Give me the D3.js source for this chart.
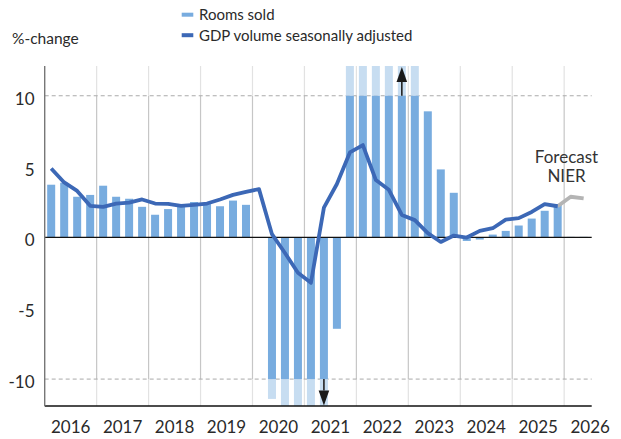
<!DOCTYPE html>
<html>
<head>
<meta charset="utf-8">
<script src="https://cdn.jsdelivr.net/npm/d3@7"></script>
<style>
body { margin: 0; background: #fff; }
svg text { font-family: Lato, "Open Sans", sans-serif; fill: #2a2a2a; }
</style>
</head>
<body>
<div id="chart"></div>
<script>
// quarters 2016Q1 - 2025Q4
var quarters = [
    "2016Q1", "2016Q2", "2016Q3", "2016Q4",
    "2017Q1", "2017Q2", "2017Q3", "2017Q4",
    "2018Q1", "2018Q2", "2018Q3", "2018Q4",
    "2019Q1", "2019Q2", "2019Q3", "2019Q4",
    "2020Q1", "2020Q2", "2020Q3", "2020Q4",
    "2021Q1", "2021Q2", "2021Q3", "2021Q4",
    "2022Q1", "2022Q2", "2022Q3", "2022Q4",
    "2023Q1", "2023Q2", "2023Q3", "2023Q4",
    "2024Q1", "2024Q2", "2024Q3", "2024Q4",
    "2025Q1", "2025Q2", "2025Q3", "2025Q4"
]
var forecastQuarters = ["2026Q1", "2026Q2"]

// rooms sold, %-change (values outside +-10 are cut off in the chart)
var roomsSold = [
    3.72, 3.86, 2.87, 3.0,
    3.65, 2.87, 2.73, 2.16,
    1.6, 2.0, 2.2, 2.5,
    2.35, 2.2, 2.6, 2.3,
    0, -11.4, -45, -38,
    -42, -30, -6.45, 40,
    110, 60, 25, 18,
    14, 8.9, 4.8, 3.15,
    -0.25, -0.15, 0.2, 0.46,
    0.84, 1.33, 1.88, 2.3
]
var roomsForecast = [0.08, 0.08]

// GDP volume seasonally adjusted, %-change
var gdp = [
    4.87, 3.88, 3.28, 2.23,
    2.16, 2.39, 2.46, 2.68,
    2.39, 2.37, 2.23, 2.3,
    2.39, 2.68, 3.0, 3.22,
    3.41, 0.23, -1.1, -2.5,
    -3.2, 2.1, 3.77, 6.0,
    6.52, 4.05, 3.36, 1.59,
    1.22, 0.3, -0.32, 0.13,
    -0.01, 0.46, 0.65, 1.26,
    1.36, 1.8, 2.35, 2.2
]
var gdpForecast = [2.87, 2.75]

var yTicks = [10, 5, 0, -5, -10]
var xTicks = [2016, 2017, 2018, 2019, 2020, 2021, 2022, 2023, 2024, 2025, 2026]
var cutoff = 10
var arrowsAt = [{q: "2022Q4", dir: "up"}, {q: "2021Q2", dir: "down"}]

function chart() {
    var width = 621, height = 439
    var svg = d3.select("#chart").append("svg")
        .attr("width", width).attr("height", height)

    var xScale = d3.scaleLinear().domain([2016, 2026.53]).range([44.7, 591.7])
    var yScale = d3.scaleLinear().domain([-11.9, 12.1]).range([406, 66])
    var yMin = yScale.domain()[0], yMax = yScale.domain()[1]

    function qx(q) {
        return xScale(+q.slice(0, 4) + (+q.slice(5) - 0.5) / 4)
    }

    var rows = quarters.map(function (q, i) {
        return {q: q, rooms: roomsSold[i], gdp: gdp[i]}
    })
    var fRows = forecastQuarters.map(function (q, i) {
        return {q: q, rooms: roomsForecast[i], gdp: gdpForecast[i]}
    })

    var grid = svg.append("g")
    // vertical year lines, lighter outside the +-10 band
    grid.selectAll(".vin").data(xTicks.slice(1)).enter().append("line")
        .attr("x1", xScale).attr("x2", xScale)
        .attr("y1", yScale(cutoff)).attr("y2", yScale(-cutoff))
        .attr("stroke", "#c6c6c6").attr("stroke-width", 1.2)
    grid.selectAll(".vtop").data(xTicks.slice(1)).enter().append("line")
        .attr("x1", xScale).attr("x2", xScale)
        .attr("y1", yScale(yMax)).attr("y2", yScale(cutoff))
        .attr("stroke", "#e2e2e2").attr("stroke-width", 1.2)
    grid.selectAll(".vbot").data(xTicks.slice(1)).enter().append("line")
        .attr("x1", xScale).attr("x2", xScale)
        .attr("y1", yScale(-cutoff)).attr("y2", yScale(yMin))
        .attr("stroke", "#e2e2e2").attr("stroke-width", 1.2)

    grid.selectAll(".dash").data([cutoff, -cutoff]).enter().append("line")
        .attr("x1", xScale(2016)).attr("x2", xScale.range()[1])
        .attr("y1", yScale).attr("y2", yScale)
        .attr("stroke", "#aaaaaa").attr("stroke-dasharray", "4,3")

    var bw = 8
    var bars = svg.append("g")
    // light part beyond the cut-off
    bars.selectAll(".over").data(rows.filter(function (d) { return Math.abs(d.rooms) > cutoff }))
        .enter().append("rect")
        .attr("x", function (d) { return qx(d.q) - bw / 2 })
        .attr("width", bw)
        .attr("y", function (d) {
            return d.rooms > 0 ? yScale(Math.min(d.rooms, yMax)) : yScale(-cutoff)
        })
        .attr("height", function (d) {
            return d.rooms > 0 ? yScale(cutoff) - yScale(Math.min(d.rooms, yMax))
                : yScale(Math.max(d.rooms, yMin)) - yScale(-cutoff)
        })
        .attr("fill", "#c7ddf1")

    bars.selectAll(".bar").data(rows).enter().append("rect")
        .attr("x", function (d) { return qx(d.q) - bw / 2 })
        .attr("width", bw)
        .attr("y", function (d) {
            var v = Math.max(-cutoff, Math.min(cutoff, d.rooms))
            return yScale(Math.max(v, 0))
        })
        .attr("height", function (d) {
            var v = Math.max(-cutoff, Math.min(cutoff, d.rooms))
            return Math.abs(yScale(v) - yScale(0))
        })
        .attr("fill", "#78acdf")

    bars.selectAll(".fbar").data(fRows).enter().append("rect")
        .attr("x", function (d) { return qx(d.q) - bw / 2 })
        .attr("width", bw)
        .attr("y", function (d) { return yScale(d.rooms) })
        .attr("height", function (d) { return yScale(0) - yScale(d.rooms) })
        .attr("fill", "#e6eef7")

    // zero and axis lines
    svg.append("line")
        .attr("x1", xScale(2016)).attr("x2", xScale.range()[1])
        .attr("y1", yScale(0)).attr("y2", yScale(0))
        .attr("stroke", "#111").attr("stroke-width", 1.3)
    svg.append("line")
        .attr("x1", xScale(2016)).attr("x2", xScale.range()[1])
        .attr("y1", yScale(yMin)).attr("y2", yScale(yMin))
        .attr("stroke", "#111").attr("stroke-width", 1.3)
    svg.append("line")
        .attr("x1", xScale(2016)).attr("x2", xScale(2016))
        .attr("y1", yScale(yMax)).attr("y2", yScale(yMin))
        .attr("stroke", "#777").attr("stroke-width", 1.4)

    var line = d3.line()
        .x(function (d) { return qx(d.q) })
        .y(function (d) { return yScale(d.gdp) })

    svg.append("path").datum([rows[rows.length - 1]].concat(fRows))
        .attr("d", line).attr("fill", "none")
        .attr("stroke", "#b4b4b4").attr("stroke-width", 3.8)
        .attr("stroke-linejoin", "round")
    svg.append("path").datum(rows)
        .attr("d", line).attr("fill", "none")
        .attr("stroke", "#3c68b6").attr("stroke-width", 3.8)
        .attr("stroke-linejoin", "round")

    // arrows for bars that run off the chart
    arrowsAt.forEach(function (a) {
        var x = qx(a.q)
        var up = a.dir == "up"
        var tip = up ? yScale(yMax) + 1 : yScale(yMin) - 0.5
        var base = up ? tip + 15 : tip - 15
        var from = up ? yScale(cutoff) : yScale(-cutoff)
        svg.append("line")
            .attr("x1", x).attr("x2", x).attr("y1", from).attr("y2", base)
            .attr("stroke", "#222").attr("stroke-width", 1.6)
        svg.append("path")
            .attr("d", "M" + [x, tip] + "L" + [x - 5.3, base] + "L" + [x + 5.3, base] + "Z")
            .attr("fill", "#1a1a1a")
    })

    // axes labels
    svg.selectAll(".ylab").data(yTicks).enter().append("text")
        .attr("x", 34.5)
        .attr("y", function (d) { return yScale(d) + 3 })
        .attr("dy", "0.35em")
        .attr("text-anchor", "end")
        .style("font-size", "17px")
        .text(function (d) { return String(d) })

    svg.selectAll(".xlab").data(xTicks).enter().append("text")
        .attr("x", function (d) { return xScale(d + 0.5) })
        .attr("y", 433)
        .attr("text-anchor", "middle")
        .style("font-size", "17px")
        .text(function (d) { return d })

    svg.append("text").attr("x", 12).attr("y", 43.5)
        .style("font-size", "15.5px").text("%-change")

    svg.append("text").attr("x", 566.5).attr("y", 162.5)
        .attr("text-anchor", "middle").style("font-size", "17px")
        .style("fill", "#333").text("Forecast")
    svg.append("text").attr("x", 566.5).attr("y", 181.5)
        .attr("text-anchor", "middle").style("font-size", "17px")
        .style("fill", "#333").text("NIER")

    // legend
    var legend = [
        {name: "Rooms sold", color: "#78acdf"},
        {name: "GDP volume seasonally adjusted", color: "#3c68b6"}
    ]
    var lg = svg.append("g").selectAll("g").data(legend).enter().append("g")
        .attr("transform", function (d, i) { return "translate(" + [181.7, 14.7 + i * 20.5] + ")" })
    lg.append("rect").attr("x", 0).attr("y", -2).attr("width", 11.6).attr("height", 4)
        .attr("fill", function (d) { return d.color })
    lg.append("text").attr("x", 17.3).attr("y", 5.3)
        .style("font-size", "15px").text(function (d) { return d.name })
}

chart()
</script>
</body>
</html>
